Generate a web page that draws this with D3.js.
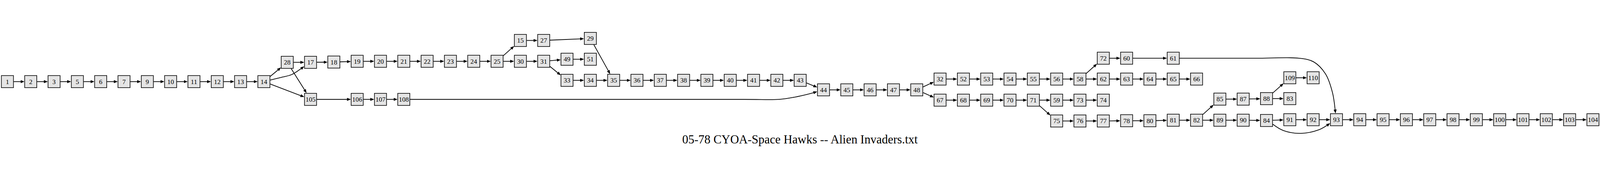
<!DOCTYPE html>
<html>
<head>
<meta charset="utf-8">
<script src="https://cdn.jsdelivr.net/npm/d3@7"></script>
<style>
  html, body { margin: 0; padding: 0; background: #fff; width: 100%; height: 100%; overflow: hidden; }
  #chart, svg { display: block; width: 100%; height: 100%; }
</style>
</head>
<body>
<div id="chart"></div>
<script>
// graph title
const title = "05-78 CYOA-Space Hawks -- Alien Invaders.txt"

// nodes: [label, rank (column), row (vertical position)]
const nodes = [
  ["1", 0, 197], ["2", 1, 197], ["3", 2, 197], ["5", 3, 197], ["6", 4, 197], ["7", 5, 197],
  ["9", 6, 197], ["10", 7, 197], ["11", 8, 197], ["12", 9, 197], ["13", 10, 197], ["14", 11, 197],
  ["28", 12, 122], ["17", 13, 122], ["105", 13, 266], ["18", 14, 121], ["19", 15, 118], ["106", 15, 266],
  ["20", 16, 118], ["107", 16, 266], ["21", 17, 118], ["108", 17, 266],
  ["22", 18, 118], ["23", 19, 118], ["24", 20, 118], ["25", 21, 118],
  ["15", 22, 37], ["30", 22, 118], ["27", 23, 37], ["31", 23, 118],
  ["49", 24, 110], ["33", 24, 192], ["29", 25, 29], ["51", 25, 110], ["34", 25, 192],
  ["35", 26, 192], ["36", 27, 192], ["37", 28, 192], ["38", 29, 192], ["39", 30, 192],
  ["40", 31, 192], ["41", 32, 192], ["42", 33, 192], ["43", 34, 192],
  ["44", 35, 229], ["45", 36, 229], ["46", 37, 229], ["47", 38, 229], ["48", 39, 229],
  ["32", 40, 187], ["67", 40, 269], ["52", 41, 187], ["68", 41, 269],
  ["53", 42, 187], ["69", 42, 269], ["54", 43, 187], ["70", 43, 269],
  ["55", 44, 187], ["71", 44, 269], ["56", 45, 187], ["59", 45, 269], ["75", 45, 350],
  ["58", 46, 187], ["73", 46, 269], ["76", 46, 350],
  ["72", 47, 106], ["62", 47, 187], ["74", 47, 269], ["77", 47, 350],
  ["60", 48, 106], ["63", 48, 187], ["78", 48, 349], ["64", 49, 187], ["80", 49, 349],
  ["61", 50, 106], ["65", 50, 187], ["81", 50, 347], ["66", 51, 187], ["82", 51, 347],
  ["85", 52, 265], ["89", 52, 347], ["87", 53, 265], ["90", 53, 347],
  ["88", 54, 263], ["84", 54, 348], ["109", 55, 182], ["83", 55, 263], ["91", 55, 345],
  ["110", 56, 182], ["92", 56, 345], ["93", 57, 345], ["94", 58, 345], ["95", 59, 345],
  ["96", 60, 345], ["97", 61, 345], ["98", 62, 345], ["99", 63, 345], ["100", 64, 345],
  ["101", 65, 345], ["102", 66, 345], ["103", 67, 345], ["104", 68, 345]
]

// edges: [from, to]
const edges = [
  ["1","2"],["2","3"],["3","5"],["5","6"],["6","7"],["7","9"],["9","10"],["10","11"],["11","12"],["12","13"],["13","14"],
  ["14","28"],["14","17"],["14","105"],["28","17"],["28","105"],
  ["17","18"],["18","19"],["19","20"],["20","21"],["21","22"],["22","23"],["23","24"],["24","25"],
  ["25","15"],["25","30"],["15","27"],["27","29"],["29","35"],
  ["30","31"],["31","49"],["31","33"],["49","51"],
  ["33","34"],["34","35"],["35","36"],["36","37"],["37","38"],["38","39"],["39","40"],["40","41"],["41","42"],["42","43"],["43","44"],
  ["105","106"],["106","107"],["107","108"],["108","44"],
  ["44","45"],["45","46"],["46","47"],["47","48"],["48","32"],["48","67"],
  ["32","52"],["52","53"],["53","54"],["54","55"],["55","56"],["56","58"],["58","72"],["58","62"],
  ["72","60"],["60","61"],["61","93"],
  ["62","63"],["63","64"],["64","65"],["65","66"],
  ["67","68"],["68","69"],["69","70"],["70","71"],["71","59"],["71","75"],["59","73"],["73","74"],
  ["75","76"],["76","77"],["77","78"],["78","80"],["80","81"],["81","82"],["82","85"],["82","89"],
  ["85","87"],["87","88"],["88","109"],["88","83"],["109","110"],
  ["89","90"],["90","84"],["84","91"],["84","93"],["91","92"],["92","93"],
  ["93","94"],["94","95"],["95","96"],["96","97"],["97","98"],["98","99"],["99","100"],["100","101"],["101","102"],["102","103"],["103","104"]
]

// bent edges: intermediate points as [rank, row]
const edgeRoutes = {
  "14-17": [[11.81, 179], [12.18, 170]],
  "108-44": [[31.6, 266], [33.11, 266], [33.78, 257], [34.37, 245]],
  "61-93": [[53.7, 106], [55.39, 106], [56.02, 120], [56.53, 167], [56.83, 240]],
  "84-93": [[54.72, 387], [55.47, 398], [56.25, 384]]
}

// constants
const width = 6224
const height = 463
const boxSize = 47
const half = 24.5

const xScale = d3.scaleLinear()
                 .domain([0, 68])
                 .range([28.9, 6196.5])
const yScale = d3.scaleLinear()
                 .domain([0, height])
                 .range([0, height])

const byId = new Map(nodes.map(d => [d[0], {x: xScale(d[1]), y: yScale(d[2])}]))

// clip a ray from box centre c towards point p to the box border
function clip(c, p) {
    const dx = p[0] - c.x, dy = p[1] - c.y
    const t = Math.min(dx ? half / Math.abs(dx) : Infinity, dy ? half / Math.abs(dy) : Infinity)
    return [c.x + dx * t, c.y + dy * t]
}

// svg scales to the window, drawing space stays 6224 x 463
const svg = d3.select("#chart").append("svg")
              .attr("viewBox", [0, 0, width, height])
              .attr("preserveAspectRatio", "xMidYMid meet")

svg.append("rect")
   .attr("width", width)
   .attr("height", height)
   .attr("fill", "#fff")

svg.append("defs").append("marker")
   .attr("id", "arrow")
   .attr("viewBox", "0 -6 15 12")
   .attr("markerUnits", "userSpaceOnUse")
   .attr("markerWidth", 15)
   .attr("markerHeight", 12)
   .attr("refX", 11)
   .attr("refY", 0)
   .attr("orient", "auto")
   .append("path")
   .attr("d", "M0,-6L15,0L0,6Z")
   .attr("fill", "#000")

const line = d3.line()

// add edges
svg.append("g")
   .selectAll("path")
   .data(edges)
   .join("path")
   .attr("d", ([s, t]) => {
       const a = byId.get(s), b = byId.get(t)
       const via = (edgeRoutes[s + "-" + t] || []).map(p => [xScale(p[0]), yScale(p[1])])
       const first = via.length ? via[0] : [b.x, b.y]
       const last = via.length ? via[via.length - 1] : [a.x, a.y]
       const start = clip(a, first)
       const end = clip(b, last)
       // pull the end back so the line hides under the arrowhead
       const prev = via.length ? via[via.length - 1] : start
       const len = Math.hypot(end[0] - prev[0], end[1] - prev[1])
       const shrunk = [end[0] - (end[0] - prev[0]) / len * 4, end[1] - (end[1] - prev[1]) / len * 4]
       line.curve(via.length ? d3.curveCatmullRom.alpha(0.5) : d3.curveLinear)
       return line([start, ...via, shrunk])
   })
   .attr("fill", "none")
   .attr("stroke", "#000")
   .attr("stroke-width", 2.8)
   .attr("marker-end", "url(#arrow)")

// add nodes
const node = svg.append("g")
                .selectAll("g")
                .data(nodes)
                .join("g")
                .attr("transform", d => `translate(${xScale(d[1])},${yScale(d[2])})`)

node.append("rect")
    .attr("x", -boxSize / 2)
    .attr("y", -boxSize / 2)
    .attr("width", boxSize)
    .attr("height", boxSize)
    .attr("fill", "#e5e5e5")
    .attr("stroke", "#000")
    .attr("stroke-width", 2.4)

node.append("text")
    .attr("text-anchor", "middle")
    .attr("dy", "0.34em")
    .style("font-family", "'Liberation Serif', 'Times New Roman', serif")
    .style("font-size", "26px")
    .text(d => d[0])

// add title
svg.append("text")
   .attr("x", width / 2)
   .attr("y", 437)
   .attr("text-anchor", "middle")
   .style("font-family", "'Liberation Serif', 'Times New Roman', serif")
   .style("font-size", "47px")
   .text(title)
</script>
</body>
</html>
